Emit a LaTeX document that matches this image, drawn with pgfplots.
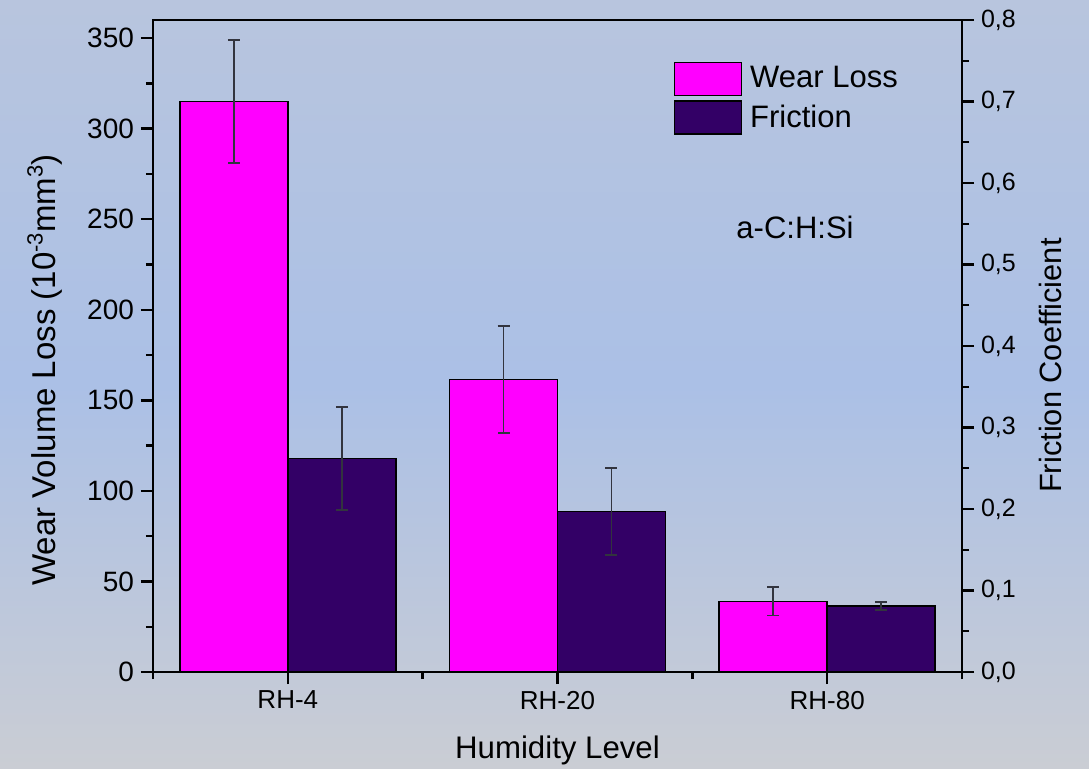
\documentclass[border=0pt]{standalone}
\usepackage{fontspec}
\setmainfont{Liberation Sans}
\usepackage{pgfplots}
\pgfplotsset{compat=1.18}

\definecolor{wearpink}{RGB}{255,0,255}
\definecolor{fricpurple}{RGB}{51,0,102}
\definecolor{errgray}{RGB}{50,52,62}
\definecolor{bgtop}{RGB}{184,197,222}
\definecolor{bgmid}{RGB}{171,192,230}
\definecolor{bgbot}{RGB}{202,205,212}

\newcommand{\sups}[1]{\raisebox{0.75ex}{\fontsize{11}{12}\selectfont #1}}

\pgfplotsset{
  panel/.style={
    at={(76.5pt,48pt)}, anchor=south west,
    scale only axis, width=404.5pt, height=326pt,
    xmin=0.5, xmax=3.5,
    axis line style={line width=1.2pt},
    tick style={line width=1.2pt, black},
    tick align=outside,
    major tick length=6pt, minor tick length=3.5pt,
    /pgf/number format/assume math mode=true,
    ybar, bar width=0.4, bar shift=0pt,
    legend image code/.code={\draw[#1, draw=black, line width=0.8pt] (0pt,-8.25pt) rectangle (33.5pt,8.25pt);},
  },
  errs/.style={
    error bars/.cd, y dir=both, y explicit,
    error bar style={errgray, line width=0.75pt},
    error mark options={rotate=90, mark size=3pt, errgray, line width=0.9pt},
  },
}

\begin{document}
\begin{tikzpicture}[x=1pt,y=1pt]
\useasboundingbox (0,0) rectangle (544.5,384);
\shade[top color=bgtop, bottom color=bgbot, middle color=bgmid] (0,0) rectangle (544.5,384);

% wear volume loss, left scale
\begin{axis}[panel,
  ymin=0, ymax=360,
  xtick={1,2,3}, xticklabels={RH-4,RH-20,RH-80},
  minor xtick={0.5,1.5,2.5,3.5},
  ytick={0,50,100,150,200,250,300,350},
  minor ytick={25,75,125,175,225,275,325},
  xtick pos=left, ytick pos=left,
  xticklabel style={font=\fontsize{13}{15}\selectfont},
  yticklabel style={font=\fontsize{14}{16}\selectfont},
  xlabel={Humidity Level},
  ylabel={Wear Volume Loss (10\sups{-3}mm\sups{3})},
  every axis x label/.style={at={(axis description cs:0.5,-0.1196)}, anchor=center, font=\fontsize{15.6}{18}\selectfont},
  every axis y label/.style={at={(axis description cs:-0.1335,0.463)}, anchor=center, rotate=90, font=\fontsize{16.5}{19}\selectfont},
]
\addplot[fill=wearpink, draw=black, line width=0.8pt, errs]
  coordinates {(0.8,315) +- (0,34) (1.8,161.5) +- (0,29.5) (2.8,39) +- (0,7.8)};
\end{axis}

% friction coefficient, right scale
\begin{axis}[panel,
  ymin=0, ymax=0.8,
  axis x line=none, axis y line*=right,
  ytick={0,0.1,0.2,0.3,0.4,0.5,0.6,0.7,0.8},
  minor ytick={0.05,0.15,0.25,0.35,0.45,0.55,0.65,0.75},
  yticklabel style={font=\fontsize{12.5}{14}\selectfont,
    /pgf/number format/.cd, fixed, fixed zerofill, precision=1, use comma},
  ylabel={Friction Coefficient},
  every axis y label/.style={at={(axis description cs:1.1088,0.47)}, anchor=center, rotate=90, font=\fontsize{15.4}{18}\selectfont},
  legend style={at={(0.643,0.937)}, anchor=north west, draw=none, fill=none,
    font=\fontsize{15.5}{18}\selectfont, row sep=2pt, inner sep=0pt,
    /tikz/every odd column/.append style={column sep=2pt}},
  legend cell align=left,
]
\addlegendimage{fill=wearpink}
\addlegendentry{Wear Loss}
\addplot[fill=fricpurple, draw=black, line width=0.8pt, errs]
  coordinates {(1.2,0.262) +- (0,0.063) (2.2,0.197) +- (0,0.053) (3.2,0.081) +- (0,0.005)};
\addlegendentry{Friction}
\node[font=\fontsize{15.5}{18}\selectfont] at (rel axis cs:0.7936,0.6825) {a-C:H:Si};
\end{axis}
\end{tikzpicture}
\end{document}
